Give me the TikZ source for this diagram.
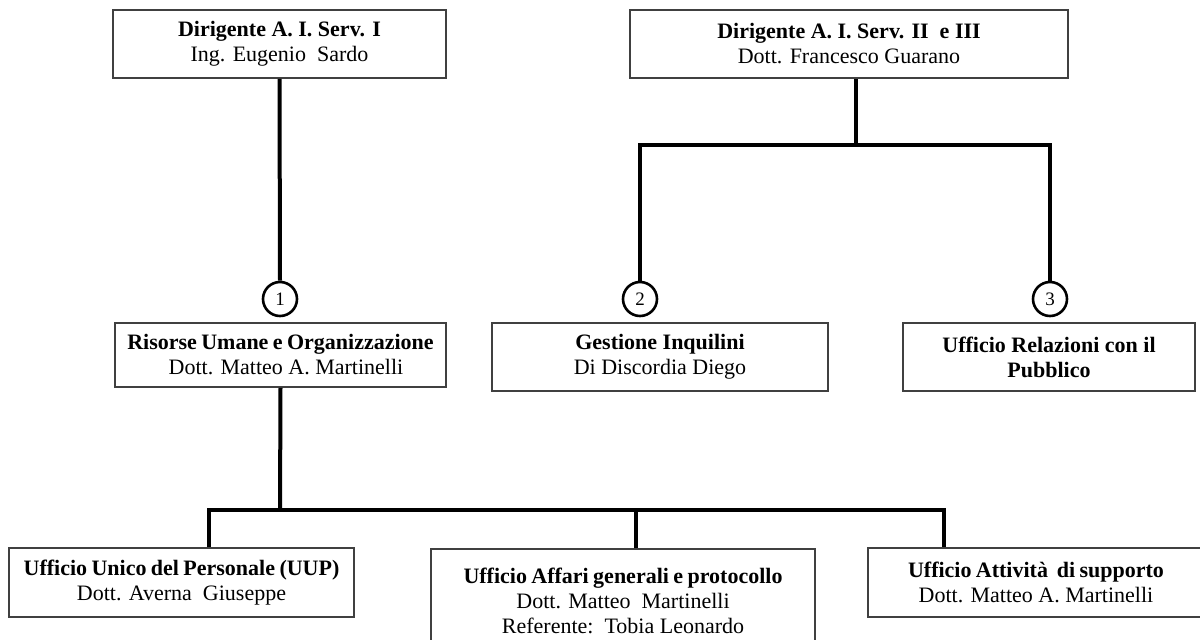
\documentclass[tikz,border=0pt]{standalone}
\usepackage{fontspec}
\setmainfont{Liberation Serif}
\begin{document}
\begin{tikzpicture}[x=1pt,y=-1pt,
  orgbox/.style={draw=black!75,line width=1.6pt,fill=white,align=center,inner sep=0pt,
    font=\fontsize{22}{25}\selectfont},
  numcircle/.style={circle,draw=black,line width=2.6pt,fill=white,minimum size=34pt,inner sep=0pt,
    font=\fontsize{19}{22}\selectfont},
  conn/.style={line width=4pt,black}]
\useasboundingbox[fill=white] (0,0) rectangle (1200,640);

% top level
\node[orgbox,minimum width=333pt,minimum height=68pt] (d1) at (279.5,44) {\textbf{Dirigente A. I. Serv. I}\\Ing. Eugenio\ \ Sardo};
\node[orgbox,minimum width=438pt,minimum height=68pt] (d2) at (849,44) {\textbf{Dirigente A. I. Serv. II\ \ e III}\\Dott. Francesco Guarano};

% circles
\node[numcircle] (c1) at (280,299) {1};
\node[numcircle] (c2) at (640,299) {2};
\node[numcircle] (c3) at (1050,299) {3};

% second level
\node[orgbox,minimum width=331pt,minimum height=64pt] (r1) at (280.5,355) {{\bfseries\spaceskip=0.2em Risorse Umane e Organizzazione}\\\ \ Dott. Matteo A. Martinelli};
\node[orgbox,minimum width=336pt,minimum height=68pt] (g1) at (660,357) {\textbf{Gestione Inquilini}\\Di Discordia Diego};
\node[orgbox,minimum width=292pt,minimum height=68pt] (p1) at (1049,357) {\textbf{Ufficio Relazioni con il}\\\textbf{Pubblico}};

% third level
\node[orgbox,minimum width=345pt,minimum height=69pt] (u1) at (181.5,582.5) {{\bfseries\spaceskip=0.2em Ufficio Unico del Personale (UUP)}\\Dott. Averna\ \ Giuseppe};
\node[orgbox,minimum width=384pt,minimum height=104pt,anchor=north] (u2) at (623,548) {{\bfseries\spaceskip=0.2em Ufficio Affari generali e protocollo}\\Dott. Matteo\ \ Martinelli\\Referente:\ \ Tobia Leonardo};
\node[orgbox,minimum width=336pt,minimum height=69pt] (u3) at (1036,582.5) {{\bfseries\spaceskip=0.2em Ufficio Attività\ \ di supporto}\\Dott. Matteo A. Martinelli};

% junctions
\coordinate (j1) at (856,145);
\coordinate (j2) at (280,510);

% connectors
\draw[conn] (d1.south) -- (c1.north);
\draw[conn] ([xshift=7pt]d2.south) -- (j1);
\draw[conn] (c2.north) |- (j1) -| (c3.north);
\draw[conn] (r1.south) -- (j2);
\draw[conn] ([xshift=27.5pt]u1.north) |- (j2) -| ([xshift=-92pt]u3.north);
\draw[conn] ([xshift=13pt]u2.north) -- ([xshift=13pt]u2.north |- j2);
\end{tikzpicture}
\end{document}
